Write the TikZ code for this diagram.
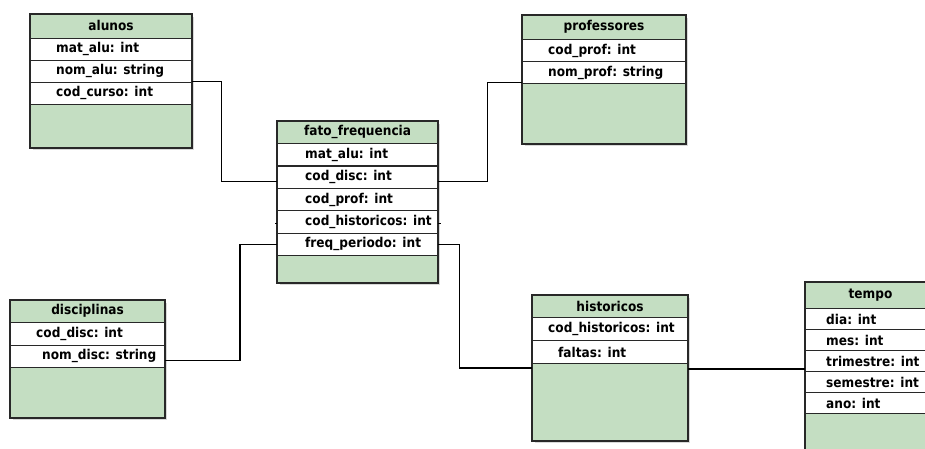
\documentclass[tikz,border=0pt]{standalone}
\usepackage{fontspec}
\setmainfont{DejaVu Sans}[FakeStretch=0.9]
\usetikzlibrary{calc}

\definecolor{tgreen}{RGB}{196,222,194}
\definecolor{tline}{RGB}{40,40,40}

\tikzset{
  tblbody/.style={draw=tline, fill=tgreen, line width=1.1pt, anchor=north west, inner sep=0pt},
  tblrow/.style={draw=tline, fill=white, line width=1.1pt, anchor=north west, inner sep=0pt},
  tbltitle/.style={font=\bfseries\fontsize{13.5}{15}\selectfont, inner sep=0pt},
  tbltext/.style={font=\bfseries\fontsize{13.5}{15}\selectfont, inner sep=0pt, anchor=west},
  tblshadow/.style={fill=black!15, draw=none},
  link/.style={draw=black, line width=1.1pt},
}

% #1 name, #2 x, #3 y, #4 width, #5 height, #6 title height, #7 row height,
% #8 title, #9 rows as indent/text
\newcommand{\tabela}[9]{%
  \fill[tblshadow] ({#2+3},{#3+3}) rectangle ++(#4,#5);
  \node[tblbody, minimum width=#4, minimum height=#5] (#1) at (#2,#3) {};
  \node[tbltitle] (#1-t) at ($(#1.north)+(0,{#6/2})$) {#8};
  \foreach \ind/\txt [count=\i] in {#9} {
    \node[tblrow, minimum width=#4, minimum height=#7] (#1-\i)
      at ($(#1.north west)+(0,{#6+(\i-1)*#7})$) {};
    \node[tbltext] (#1-\i-l) at ($(#1-\i.west)+(\ind,0)$) {\txt};
  }
  \draw[draw=tline, line width=1.1pt] (#1.north west) rectangle (#1.south east);
}

\begin{document}
\begin{tikzpicture}[x=1pt, y=-1pt]
  \useasboundingbox (0,0) rectangle (925,448);

  \tabela{alunos}{30}{14}{161}{133}{23.5}{22}{alunos}
    {26/mat\_alu: int, 26/nom\_alu: string, 26/cod\_curso: int}
  \tabela{prof}{522}{15}{163}{128}{24}{22}{professores}
    {26/cod\_prof: int, 26/nom\_prof: string}
  \tabela{fato}{277}{121}{160}{161}{22}{22.4}{fato\_frequencia}
    {28/mat\_alu: int, 28/cod\_disc: int, 28/cod\_prof: int, 28/cod\_historicos: int, 28/freq\_periodo: int}
  \tabela{disc}{10}{300}{154}{117}{22}{22.5}{disciplinas}
    {26/cod\_disc: int, 32/nom\_disc: string}
  \tabela{hist}{532}{295}{155}{145}{22}{23}{historicos}
    {16/cod\_historicos: int, 26/faltas: int}
  \tabela{tempo}{805}{282}{130}{180}{26}{21}{tempo}
    {21/dia: int, 21/mes: int, 21/trimestre: int, 21/semestre: int, 21/ano: int}

  % relationships
  \draw[link] (alunos-3.north east) -- ++(29,0) |- ($(fato-2.west)+(0,4)$);
  \draw[link] ($(fato-2.east)+(0,4)$) -- ++(49,0) |- ($(prof-2.south west)+(0,-2)$);
  \draw[link] (fato-5.west) -- ++(-37,0) |- ($(disc-2.east)+(0,4)$);
  \draw[link] (fato-5.east) -- ++(21,0) |- ($(hist.north west)+(0,73)$);
  \draw[link] ($(hist.north east)+(0,74)$) -- ($(tempo.north west)+(0,87)$);

  % short stubs beside cod_historicos
  \draw[link, line width=0.8pt] ($(fato-4.west)+(0,1)$) -- ++(-2,0);
  \draw[link, line width=0.8pt] ($(fato-4.east)+(0,1)$) -- ++(3,0);
\end{tikzpicture}
\end{document}
